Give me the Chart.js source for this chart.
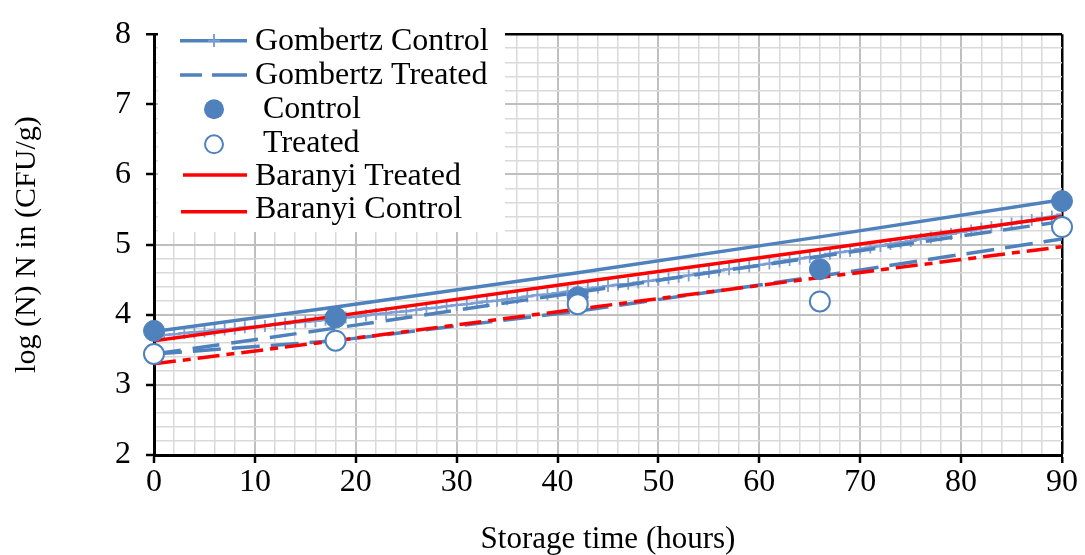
<!DOCTYPE html>
<html><head><meta charset="utf-8">
<script src="https://cdn.jsdelivr.net/npm/chart.js@4.4.1/dist/chart.umd.min.js"></script>
<style>html,body{margin:0;padding:0;background:#fff;} canvas{display:block;}</style>
</head><body>
<canvas id="c" width="1085" height="555"></canvas>
<script>
// ---- data ----
const sampleHours = [0, 18, 42, 66, 90];
const controlObserved = [3.77, 3.96, 4.25, 4.65, 5.62];
const treatedObserved = [3.44, 3.63, 4.15, 4.19, 5.25];
const gompertzControlFit = [3.76, 4.11, 4.60, 5.11, 5.64];
const gompertzTreatedFit = [3.44, 3.81, 4.32, 4.83, 5.33];
const gompertzTreatedFit2 = [3.44, 3.63, 4.05, 4.55, 5.08];
const baranyiControlFit = [3.63, 3.98, 4.46, 4.93, 5.40];
const baranyiTreatedFit = [3.30, 3.63, 4.08, 4.53, 4.97];
const curveHours = [0,1,2,3,4,5,6,7,8,9,10,11,12,13,14,15,16,17,18,19,20,21,22,23,24,25,26,27,28,29,30,31,32,33,34,35,36,37,38,39,40,41,42,43,44,45,46,47,48,49,50,51,52,53,54,55,56,57,58,59,60,61,62,63,64,65,66,67,68,69,70,71,72,73,74,75,76,77,78,79,80,81,82,83,84,85,86,87,88,89,90];
const gompertzControlCurve = [3.70,3.71,3.72,3.74,3.75,3.76,3.78,3.79,3.80,3.82,
 3.83,3.84,3.86,3.87,3.89,3.90,3.91,3.93,3.94,3.96,
 3.97,3.99,4.01,4.02,4.04,4.05,4.07,4.09,4.10,4.12,
 4.14,4.15,4.17,4.19,4.20,4.22,4.24,4.26,4.28,4.29,
 4.31,4.33,4.35,4.37,4.39,4.41,4.43,4.44,4.46,4.48,
 4.50,4.52,4.54,4.56,4.59,4.61,4.63,4.65,4.67,4.69,
 4.71,4.73,4.76,4.78,4.80,4.82,4.84,4.87,4.89,4.91,
 4.94,4.96,4.98,5.01,5.03,5.05,5.08,5.10,5.13,5.15,
 5.18,5.20,5.23,5.25,5.28,5.30,5.33,5.35,5.38,5.40,
 5.43];
const xTickLabels = ['0','10','20','30','40','50','60','70','80','90'];
const yTickLabels = ['2','3','4','5','6','7','8'];
const legendLabels = ['Gombertz Control', 'Gombertz Treated', ' Control', ' Treated', 'Baranyi Treated', 'Baranyi Control'];

const BLUE = '#4f81bd';
const LIGHTBLUE = '#7d9fd3';
const RED = '#ff0000';
const FONT = "'Liberation Serif', 'Times New Roman', serif";

const pts = (xs, ys) => xs.map((x, i) => ({x: x, y: ys[i]}));
const isInt = v => Math.abs(v - Math.round(v)) < 1e-6;

const legendPlugin = {
  id: 'customLegend',
  beforeDatasetsDraw(chart) {
    const ctx = chart.ctx;
    ctx.save();
    ctx.fillStyle = '#fff';
    ctx.fillRect(158, 24, 347, 208);
    ctx.lineCap = 'butt';
    // 1 line with plus
    ctx.strokeStyle = BLUE; ctx.lineWidth = 3.5;
    ctx.beginPath(); ctx.moveTo(180, 40.7); ctx.lineTo(247, 40.7); ctx.stroke();
    ctx.strokeStyle = LIGHTBLUE; ctx.lineWidth = 2;
    ctx.beginPath(); ctx.moveTo(214, 34); ctx.lineTo(214, 47); ctx.moveTo(208, 40.7); ctx.lineTo(220, 40.7); ctx.stroke();
    // 2 dashed
    ctx.strokeStyle = BLUE; ctx.lineWidth = 3.5;
    ctx.beginPath(); ctx.moveTo(180, 75); ctx.lineTo(202, 75); ctx.moveTo(212, 75); ctx.lineTo(247, 75); ctx.stroke();
    // 3 filled circle
    ctx.fillStyle = BLUE;
    ctx.beginPath(); ctx.arc(214, 109.3, 10, 0, Math.PI * 2); ctx.fill();
    // 4 open circle
    ctx.fillStyle = '#fff'; ctx.strokeStyle = BLUE; ctx.lineWidth = 2;
    ctx.beginPath(); ctx.arc(214, 144.3, 9, 0, Math.PI * 2); ctx.fill(); ctx.stroke();
    // 5, 6 red lines
    ctx.strokeStyle = RED; ctx.lineWidth = 3.5;
    ctx.beginPath(); ctx.moveTo(183, 175); ctx.lineTo(247, 175); ctx.stroke();
    ctx.beginPath(); ctx.moveTo(181, 211.7); ctx.lineTo(247, 211.7); ctx.stroke();
    // text
    ctx.fillStyle = '#000';
    ctx.font = "32px " + FONT;
    ctx.textAlign = 'left'; ctx.textBaseline = 'alphabetic';
    const baselines = [50, 83.5, 118.3, 151.7, 185, 218.3];
    legendLabels.forEach((t, i) => ctx.fillText(t, 255, baselines[i]));
    ctx.restore();
  }
};

new Chart(document.getElementById('c'), {
  type: 'line',
  data: {
    datasets: [
      { label: 'Treated', data: pts(sampleHours, treatedObserved), showLine: false, order: 0, clip: false,
        pointRadius: 10, pointHoverRadius: 10, pointBackgroundColor: '#fff', pointBorderColor: BLUE, pointBorderWidth: 2 },
      { label: 'Control', data: pts(sampleHours, controlObserved), showLine: false, order: 1, clip: false,
        pointRadius: 10.5, pointHoverRadius: 10.5, pointBackgroundColor: BLUE, pointBorderColor: BLUE, pointBorderWidth: 1 },
      { label: 'Gombertz Control fit', data: pts(sampleHours, gompertzControlFit), order: 2,
        borderColor: BLUE, borderWidth: 3.5, pointRadius: 0, tension: 0 },
      { label: 'Baranyi Control', data: pts(sampleHours, baranyiControlFit), order: 3,
        borderColor: RED, borderWidth: 3.5, pointRadius: 0, tension: 0 },
      { label: 'Gombertz Treated', data: pts(sampleHours, gompertzTreatedFit), order: 4,
        borderColor: BLUE, borderWidth: 3.5, borderDash: [27, 12], pointRadius: 0, tension: 0 },
      { label: 'Gombertz Control', data: pts(curveHours, gompertzControlCurve), order: 5,
        borderColor: LIGHTBLUE, borderWidth: 2.5, pointStyle: 'cross', pointRadius: 6, pointHoverRadius: 6,
        pointBorderColor: LIGHTBLUE, pointBorderWidth: 1.8, tension: 0 },
      { label: 'Baranyi Treated', data: pts(sampleHours, baranyiTreatedFit), order: 6,
        borderColor: RED, borderWidth: 3.5, borderDash: [22, 7, 8, 7], pointRadius: 0, tension: 0 },
      { label: 'Gombertz Treated 2', data: pts(sampleHours, gompertzTreatedFit2), order: 7,
        borderColor: BLUE, borderWidth: 3.5, borderDash: [28, 11], pointRadius: 0, tension: 0 }
    ]
  },
  options: {
    responsive: false,
    animation: false,
    devicePixelRatio: 1,
    layout: { padding: { left: 0, top: 22, right: 23, bottom: 0 } },
    plugins: { legend: { display: false }, tooltip: { enabled: false } },
    scales: {
      x: {
        type: 'linear', min: 0, max: 90,
        afterFit: s => { s.height = 100; },
        border: { display: true, color: '#000', width: 3 },
        grid: {
          color: c => (c.tick.value === 90 ? '#000' : (c.tick.value % 10 === 0 ? '#bfbfbf' : '#d9d9d9')),
          lineWidth: c => (c.tick.value === 90 ? 2.5 : (c.tick.value % 10 === 0 ? 2 : 1.5)),
          tickColor: c => (c.tick.value % 10 === 0 ? '#000' : 'rgba(0,0,0,0)'),
          tickLength: 8, tickWidth: 2.5, drawTicks: true
        },
        ticks: {
          stepSize: 2, autoSkip: false, maxRotation: 0, padding: 0, color: '#000',
          font: { family: FONT, size: 32 },
          callback: v => (v % 10 === 0 ? xTickLabels[v / 10] : '')
        },
        title: { display: true, text: 'Storage time (hours)', color: '#000',
          font: { family: FONT, size: 31, lineHeight: 1 }, padding: { top: 0, bottom: 0 } }
      },
      y: {
        type: 'linear', min: 2, max: 8,
        afterFit: s => { s.width = 154; },
        border: { display: true, color: '#000', width: 3 },
        grid: {
          color: c => (isInt(c.tick.value) ? (Math.round(c.tick.value) === 8 ? '#000' : '#bfbfbf') : '#d9d9d9'),
          lineWidth: c => (isInt(c.tick.value) ? (Math.round(c.tick.value) === 8 ? 2.5 : 2) : 1.5),
          tickColor: c => (isInt(c.tick.value) ? '#000' : 'rgba(0,0,0,0)'),
          tickLength: 8, tickWidth: 2.5, drawTicks: true
        },
        ticks: {
          stepSize: 0.2, autoSkip: false, padding: 15, color: '#000',
          font: { family: FONT, size: 32 },
          callback: v => (isInt(v) ? yTickLabels[Math.round(v) - 2] : '')
        },
        title: { display: true, text: 'log (N) N in (CFU/g)', color: '#000',
          font: { family: FONT, size: 30, lineHeight: 1 }, padding: { top: 12, bottom: 0 } }
      }
    }
  },
  plugins: [legendPlugin]
});
</script>
</body></html>
